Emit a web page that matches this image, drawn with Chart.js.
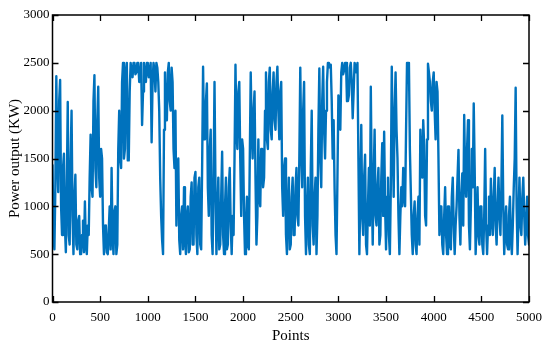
<!DOCTYPE html>
<html>
<head>
<meta charset="utf-8">
<script src="https://cdn.jsdelivr.net/npm/chart.js@4/dist/chart.umd.min.js"></script>
<style>
html,body{margin:0;padding:0;background:#fff;}
#wrap{width:550px;height:348px;position:relative;}
</style>
</head>
<body>
<div id="wrap"><canvas id="c" width="550" height="348"></canvas></div>
<script>
// Sample spacing (in "Points") of the values
const sampleStep = 10;
// Power output (KW), every 10 points, 0..5000
const powerOutput = [
  1430, 700, 550, 1200, 2360, 1500, 1150, 2100, 2320, 1000,
  700, 1400, 1550, 800, 520, 1200, 2090, 700, 600, 1500,
  2000, 900, 500, 1100, 1330, 600, 550, 850, 900, 500,
  500, 700, 850, 520, 1050, 600, 500, 800, 700, 1300,
  1750, 1200, 1100, 2100, 2370, 1400, 1200, 1900, 2250, 1300,
  1100, 1600, 1500, 800, 500, 700, 800, 520, 500, 750,
  1000, 550, 1400, 700, 500, 950, 1000, 500, 600, 1600,
  2000, 1500, 1400, 2300, 2500, 1500, 1600, 2400, 2500, 1480,
  1480, 2200, 2500, 2400, 2350, 2500, 2500, 2380, 2400, 2500,
  2500, 2300, 2350, 2500, 1850, 2200, 2500, 2380, 2300, 2500,
  2500, 2350, 2400, 2500, 1670, 2300, 2500, 2420, 2200, 2500,
  2450, 2300, 2000, 1300, 900, 650, 500, 1800, 2400, 1900,
  1900, 2400, 2500, 2100, 2000, 2450, 2300, 1600, 1400, 2000,
  800, 1400, 1500, 650, 500, 900, 1000, 550, 1200, 700,
  500, 900, 1000, 520, 550, 1100, 1250, 600, 600, 1300,
  1360, 700, 500, 1200, 1300, 600, 550, 1400, 2460, 1700,
  1800, 2100, 2285, 1200, 900, 1600, 1800, 700, 500, 1300,
  2300, 1200, 500, 900, 1300, 550, 600, 1100, 1570, 700,
  500, 1000, 1300, 550, 600, 1200, 1400, 800, 500, 900,
  700, 1500, 2480, 1800, 1600, 2200, 2300, 1500, 900, 1700,
  1600, 900, 500, 800, 1100, 600, 550, 1500, 2400, 1800,
  1500, 2000, 2200, 1300, 600, 900, 1700, 1100, 1000, 1600,
  1600, 1200, 1300, 2000, 2400, 1700, 1600, 2300, 2450, 1800,
  1700, 2200, 2400, 1900, 1800, 2300, 2460, 2000, 1700, 2200,
  2300, 1200, 900, 1400, 1500, 700, 500, 1000, 1300, 550,
  600, 1100, 1300, 700, 700, 1200, 1400, 900, 800, 1500,
  2450, 1600, 1200, 2000, 2300, 900, 500, 1000, 1300, 600,
  500, 1400, 2000, 800, 600, 1100, 1300, 500, 900, 1800,
  2440, 1500, 1200, 2100, 2460, 1800, 1500, 2000, 2300, 2500,
  2500, 2450, 2480, 2100, 1500, 1900, 1190, 700, 500, 1300,
  2160, 2000, 1800, 2400, 2500, 2380, 2420, 2500, 2500, 2100,
  2100, 2160, 2450, 2500, 2300, 1920, 2200, 2500, 2450, 2400,
  2500, 1500, 500, 1100, 1850, 900, 700, 1300, 1540, 600,
  500, 1000, 1400, 800, 2250, 1200, 600, 1300, 1800, 900,
  800, 1200, 1400, 600, 700, 1300, 1660, 900, 1780, 1000,
  550, 1100, 1300, 700, 500, 1200, 2460, 1700, 1100, 2000,
  2400, 1800, 1500, 900, 500, 900, 1200, 1000, 1400, 1100,
  1000, 1800, 2500, 2300, 2500, 1600, 1150, 700, 500, 900,
  1050, 600, 500, 900, 1100, 600, 1800, 1400, 1300, 1900,
  1640, 900, 800, 1700, 2490, 2400, 2300, 2100, 2000, 2300,
  2400, 2000, 1700, 2300, 2200, 1500, 700, 1000, 1000, 600,
  500, 900, 1200, 700, 500, 1000, 1000, 600, 550, 1100,
  1300, 800, 500, 800, 1000, 1300, 1590, 900, 600, 1100,
  1345, 800, 1955, 1300, 1100, 1600, 1900, 800, 550, 1000,
  1600, 1200, 2075, 1400, 500, 800, 1200, 700, 600, 1000,
  1000, 600, 500, 900, 1600, 800, 500, 800, 1100, 700,
  1290, 900, 700, 1100, 1400, 800, 600, 1000, 1300, 900,
  700, 1200, 1950, 1000, 500, 800, 1000, 600, 550, 900,
  1100, 700, 500, 800, 1200, 1500, 2240, 1000, 500, 900,
  1300, 800, 700, 1100, 1300, 900, 600, 800, 1100, 700,
  600
];
const xTicks = [0, 500, 1000, 1500, 2000, 2500, 3000, 3500, 4000, 4500, 5000];
const yTicks = [0, 500, 1000, 1500, 2000, 2500, 3000];
const xTitle = 'Points';
const yTitle = 'Power output (KW)';

const points = powerOutput.map((v, i) => ({ x: i * sampleStep, y: v }));

const FONT = '"Liberation Serif", "Times New Roman", serif';

const boxTicks = {
  id: 'boxTicks',
  afterDraw(chart) {
    const { ctx, chartArea: a, scales } = chart;
    const L = 6;
    ctx.save();
    ctx.strokeStyle = '#000';
    ctx.lineWidth = 1.3;
    ctx.beginPath();
    xTicks.forEach(t => {
      const px = Math.round(scales.x.getPixelForValue(t)) + 0.5;
      ctx.moveTo(px, a.bottom); ctx.lineTo(px, a.bottom - L);
      ctx.moveTo(px, a.top); ctx.lineTo(px, a.top + L);
    });
    yTicks.forEach(t => {
      const py = Math.round(scales.y.getPixelForValue(t)) + 0.5;
      ctx.moveTo(a.left, py); ctx.lineTo(a.left + L, py);
      ctx.moveTo(a.right, py); ctx.lineTo(a.right - L, py);
    });
    ctx.stroke();
    ctx.lineWidth = 1.5;
    ctx.strokeRect(a.left, a.top, a.right - a.left, a.bottom - a.top);
    ctx.restore();
  }
};

new Chart(document.getElementById('c'), {
  type: 'line',
  data: {
    datasets: [{
      data: points,
      borderColor: '#0072BD',
      borderWidth: 2.4,
      borderJoinStyle: 'round',
      borderCapStyle: 'round',
      pointRadius: 0,
      tension: 0,
      fill: false
    }]
  },
  options: {
    responsive: false,
    animation: false,
    layout: { padding: { top: 15, right: 16, left: 0, bottom: 0 } },
    plugins: { legend: { display: false }, tooltip: { enabled: false } },
    scales: {
      x: {
        type: 'linear',
        min: 0, max: 5000,
        afterBuildTicks(s) { s.ticks = xTicks.map(v => ({ value: v })); },
        afterFit(s) { s.height = 46; },
        grid: { display: false, drawTicks: false },
        border: { display: false },
        ticks: { color: '#000', font: { family: FONT, size: 13 }, padding: 8, maxRotation: 0, autoSkip: false, callback: v => String(v) },
        title: { display: true, text: xTitle, color: '#000', font: { family: FONT, size: 15 }, padding: { top: 2, bottom: 3 } }
      },
      y: {
        type: 'linear',
        min: 0, max: 3000,
        afterBuildTicks(s) { s.ticks = yTicks.map(v => ({ value: v })); },
        afterFit(s) { s.width = 52.5; },
        grid: { display: false, drawTicks: false },
        border: { display: false },
        ticks: { color: '#000', font: { family: FONT, size: 13 }, padding: 3, autoSkip: false, callback: v => String(v) },
        title: { display: true, text: yTitle, color: '#000', font: { family: FONT, size: 15 }, padding: { top: 6, bottom: 0 } }
      }
    }
  },
  plugins: [boxTicks]
});
</script>
</body>
</html>
